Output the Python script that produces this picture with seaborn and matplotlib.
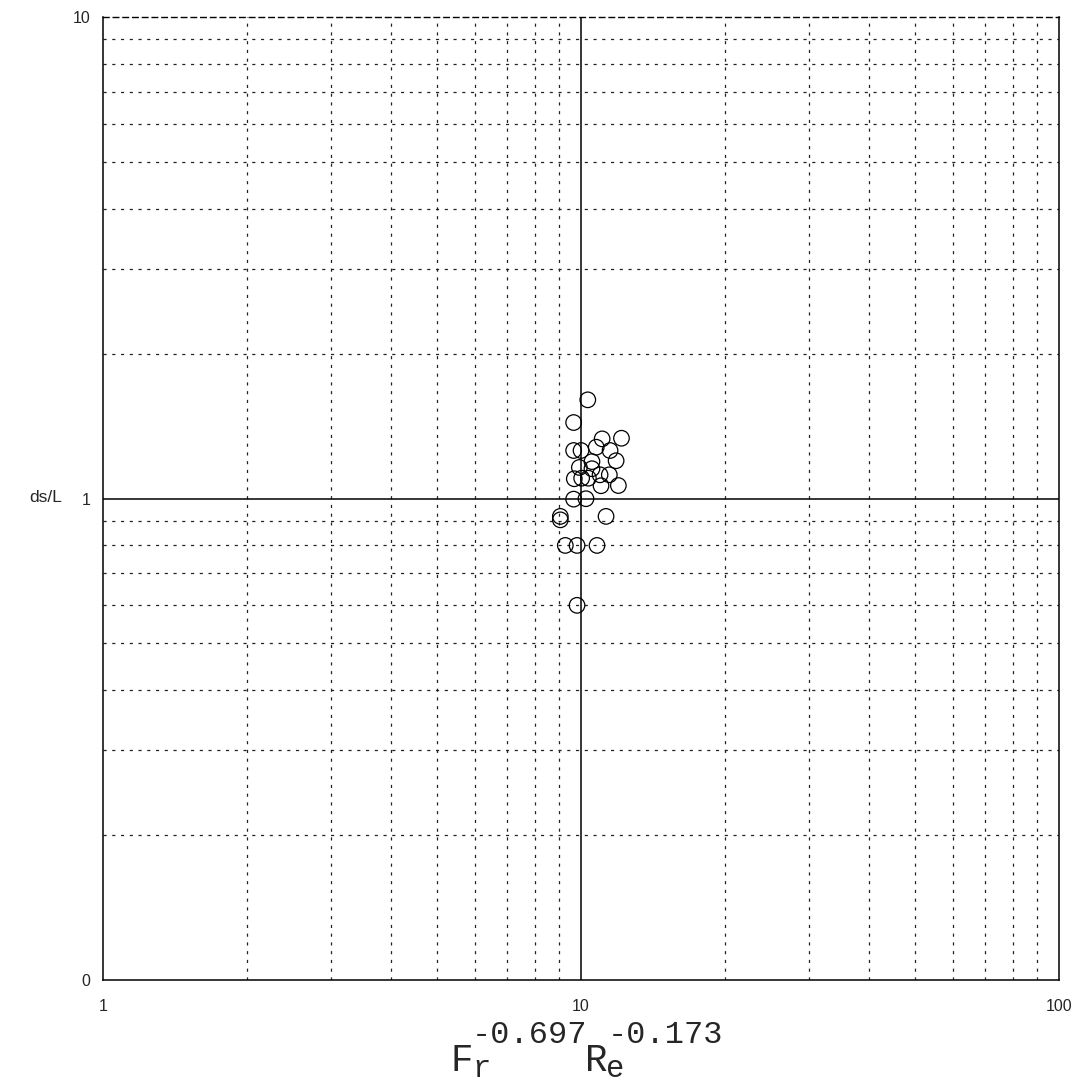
import numpy as np
import pandas as pd
import matplotlib
matplotlib.use("Agg")
import matplotlib.pyplot as plt
import seaborn as sns
from matplotlib.ticker import FixedLocator, FixedFormatter, NullFormatter

# Data
x_vals = [10.33, 9.65, 11.07, 12.15, 9.65, 10.00, 10.76, 11.50, 10.54, 11.84,
          9.92, 10.54, 9.68, 10.03, 10.36, 10.96, 11.46, 11.01, 11.97, 9.65,
          10.24, 9.05, 9.05, 11.28, 9.27, 9.81, 10.80, 9.81]
y_vals = [1.603, 1.438, 1.330, 1.334, 1.258, 1.258, 1.278, 1.258, 1.193, 1.198,
          1.160, 1.153, 1.099, 1.102, 1.102, 1.120, 1.120, 1.063, 1.064, 0.997,
          0.999, 0.918, 0.903, 0.918, 0.799, 0.799, 0.799, 0.600]
x_ticks = [1, 10, 100]
x_tick_labels = ["1", "10", "100"]
y_ticks = [0.1, 1, 10]
y_tick_labels = ["0", "1", "10"]

df = pd.DataFrame({"x": x_vals, "y": y_vals})

sns.set_style("white")
plt.rcParams['font.family'] = ['Liberation Sans', 'DejaVu Sans']

fig = plt.figure(figsize=(10.79, 10.83), dpi=100)
ax = fig.add_axes([0.0955, 0.0951, 0.886, 0.8892])

ax.set_xscale("log")
ax.set_yscale("log")
ax.set_xlim(1, 100)
ax.set_ylim(0.1, 10)

# grid
grid_col = "#222222"
minor = [m * d for d in (1, 10) for m in range(2, 10)]
minor_y = [m * d for d in (0.1, 1) for m in range(2, 10)]
for v in minor:
    ax.axvline(v, color=grid_col, lw=0.9, ls=(0, (2.5, 4.5)), zorder=1)
for v in minor_y:
    ax.axhline(v, color=grid_col, lw=0.9, ls=(0, (2.5, 4.5)), zorder=1)
ax.axvline(10, color="black", lw=1.1, zorder=1)
ax.axhline(1, color="black", lw=1.1, zorder=1)

sns.scatterplot(data=df, x="x", y="y", ax=ax, marker="o", s=125,
                facecolors="none", edgecolors="black", linewidth=0.9, zorder=3)

ax.xaxis.set_major_locator(FixedLocator(x_ticks))
ax.xaxis.set_major_formatter(FixedFormatter(x_tick_labels))
ax.xaxis.set_minor_formatter(NullFormatter())
ax.yaxis.set_major_locator(FixedLocator(y_ticks))
ax.yaxis.set_major_formatter(FixedFormatter(y_tick_labels))
ax.yaxis.set_minor_formatter(NullFormatter())
ax.tick_params(which="both", length=0)
ax.tick_params(axis="x", pad=14, labelsize=11.5)
ax.tick_params(axis="y", pad=9, labelsize=11.5)

for s in ["left", "right", "bottom"]:
    ax.spines[s].set_color("black")
    ax.spines[s].set_linewidth(1.1)
ax.spines["top"].set_color("black")
ax.spines["top"].set_linewidth(1.0)
ax.spines["top"].set_linestyle((0, (4, 3)))

ax.set_xlabel("")
ax.set_ylabel("")
fig.text(46 / 1079, 1 - 497 / 1083, "ds/L", fontsize=12.5, ha="center", va="center")

# x-axis label: F_r^-0.697 R_e^-0.173 built from pieces
fig.canvas.draw()
renderer = fig.canvas.get_renderer()
mono = "Liberation Mono"
W, H = fig.get_size_inches() * fig.dpi
base_y = 1 - 1071 / 1083
sub_y = 1 - 1077 / 1083
sup_y = 1 - 1043 / 1083

def put(xpx, y, s, fs):
    t = fig.text(xpx / W, y, s, fontsize=fs, family=mono, ha="left", va="baseline")
    bb = t.get_window_extent(renderer)
    return bb.x1

xpos = 451
xpos = put(xpos, base_y, "F", 27)
e1 = put(xpos - 1, sub_y, "r", 22)
e2 = put(xpos - 2, sup_y, "-0.697", 23)
xpos = max(e1, e2)
xpos = put(xpos - 2, base_y, "R", 27)
e1 = put(xpos - 1, sub_y, "e", 22)
e2 = put(xpos, sup_y, "-0.173", 23)

fig.savefig("out.png", dpi=100)
